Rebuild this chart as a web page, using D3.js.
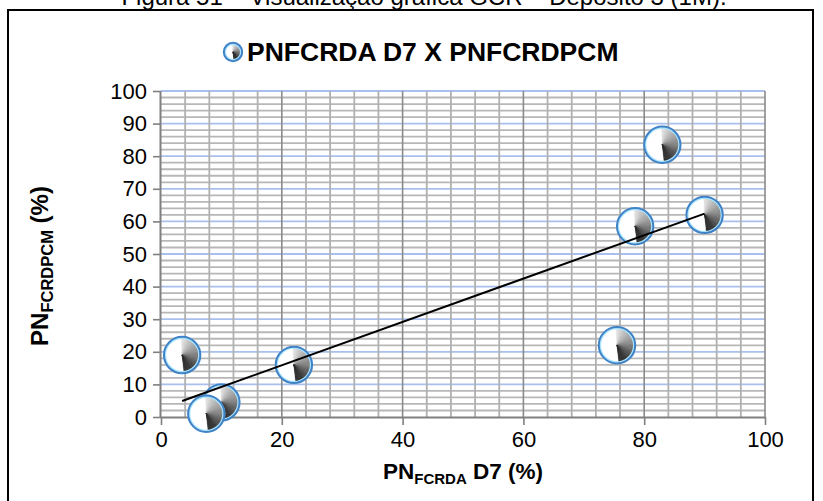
<!DOCTYPE html>
<html>
<head>
<meta charset="utf-8">
<script src="https://cdn.jsdelivr.net/npm/d3@7"></script>
<style>
  html, body { margin: 0; padding: 0; background: #fff; }
  svg { display: block; font-family: "Liberation Sans", Arial, sans-serif; }
</style>
</head>
<body>
<svg id="chart" width="823" height="501"></svg>
<script>
// Sample pairs: PN FCRDA D7 (%) against PN FCRDPCM (%)
const pnFcrdaD7   = [3.5, 10, 7.5, 22, 75.5, 78.5, 90, 83];
const pnFcrdpcm   = [19, 4.5, 1, 16, 22, 58.5, 62, 83.5];
const xTickValues = [0, 20, 40, 60, 80, 100];
const yTickValues = [0, 10, 20, 30, 40, 50, 60, 70, 80, 90, 100];
const seriesName  = "PNFCRDA D7 X PNFCRDPCM";
const captionText = "Figura 51 – Visualização gráfica  GCR – Depósito 3 (1M).";

const svg = d3.select("#chart");
const plot = { left: 161, right: 765, top: 91, bottom: 417 };

const x = d3.scaleLinear().domain([0, 100]).range([plot.left, plot.right]);
const y = d3.scaleLinear().domain([0, 100]).range([plot.bottom, plot.top]);

// caption above the frame (its upper part runs off the page top)
svg.append("text")
  .attr("x", 424).attr("y", 5)
  .attr("text-anchor", "middle")
  .attr("font-size", 24)
  .attr("fill", "#000")
  .text(captionText);

// chart frame
svg.append("rect")
  .attr("x", 8).attr("y", 10)
  .attr("width", 805).attr("height", 500)
  .attr("fill", "#fff")
  .attr("stroke", "#000").attr("stroke-width", 2);

// ---- grid ----
const grid = svg.append("g");
const minorX = d3.range(0, 101, 4).filter(v => v % 20 !== 0);
const minorY = d3.range(0, 101, 2).filter(v => v % 10 !== 0);

grid.selectAll(".hminor").data(minorY).join("line")
  .attr("x1", plot.left).attr("x2", plot.right)
  .attr("y1", d => y(d)).attr("y2", d => y(d))
  .attr("stroke", "#b7b7b7").attr("stroke-width", 1.8);

grid.selectAll(".hmajor").data(yTickValues.filter(v => v > 0)).join("line")
  .attr("x1", plot.left).attr("x2", plot.right)
  .attr("y1", d => y(d)).attr("y2", d => y(d))
  .attr("stroke", "#a9c0ee").attr("stroke-width", 1.8);

grid.selectAll(".vminor").data(minorX).join("line")
  .attr("x1", d => x(d)).attr("x2", d => x(d))
  .attr("y1", plot.top).attr("y2", plot.bottom)
  .attr("stroke", "#b0b0b0").attr("stroke-width", 1.8);

grid.selectAll(".vmajor").data(xTickValues.filter(v => v > 0)).join("line")
  .attr("x1", d => x(d)).attr("x2", d => x(d))
  .attr("y1", plot.top).attr("y2", plot.bottom)
  .attr("stroke", "#8a8a8a").attr("stroke-width", 1.6);

// ---- axes ----
const xAxis = d3.axisBottom(x).tickValues(xTickValues).tickSize(8).tickPadding(6).tickFormat(d3.format("d"));
const yAxis = d3.axisLeft(y).tickValues(yTickValues).tickSize(8).tickPadding(6).tickFormat(d3.format("d"));

function styleAxis(g) {
  g.select(".domain").attr("stroke", "#808080").attr("stroke-width", 2);
  g.selectAll(".tick line").attr("stroke", "#808080").attr("stroke-width", 1.6);
  g.selectAll(".tick text")
    .attr("fill", "#000")
    .attr("font-size", 22)
    .attr("font-family", "'Liberation Sans', Arial, sans-serif");
}

svg.append("g")
  .attr("transform", `translate(0,${plot.bottom})`)
  .call(xAxis)
  .call(g => g.select(".domain").attr("d", `M${plot.left},0.5H${plot.right}`))
  .call(styleAxis);

svg.append("g")
  .attr("transform", `translate(${plot.left},0)`)
  .call(yAxis)
  .call(g => g.select(".domain").attr("d", `M-0.5,${plot.bottom}V${plot.top}`))
  .call(styleAxis);

// ---- least-squares trend line over the sampled range ----
const n = pnFcrdaD7.length;
const mx = d3.mean(pnFcrdaD7), my = d3.mean(pnFcrdpcm);
let sxy = 0, sxx = 0;
for (let i = 0; i < n; i++) {
  sxy += (pnFcrdaD7[i] - mx) * (pnFcrdpcm[i] - my);
  sxx += (pnFcrdaD7[i] - mx) ** 2;
}
const slope = sxy / sxx, intercept = my - slope * mx;
const [xMin, xMax] = d3.extent(pnFcrdaD7);

// ---- spherical markers with a conic shading ----
const shade = d3.scaleLinear()
  .domain([0, 0.2, 0.55, 0.85, 1])
  .range(["#e4e4e4", "#b8b8b8", "#7a7a7a", "#333", "#2a2a2a"]);

function drawMarker(g, r) {
  g.append("circle").attr("r", r).attr("fill", "#fff");
  const steps = 48, start = -0.05, sweep = Math.PI * 0.98;
  const arc = d3.arc().innerRadius(0).outerRadius(r - 1);
  for (let i = 0; i < steps; i++) {
    const a0 = start + sweep * i / steps;
    const a1 = start + sweep * (i + 1) / steps + 0.01;
    const c = shade(i / (steps - 1));
    g.append("path")
      .attr("d", arc({ startAngle: a0, endAngle: a1 }))
      .attr("fill", c).attr("stroke", c).attr("stroke-width", 0.4);
  }
  g.append("circle").attr("r", r - 2.2)
    .attr("fill", "none").attr("stroke", "#a9e4ff").attr("stroke-width", 1.6);
  g.append("circle").attr("r", r - 0.8)
    .attr("fill", "none").attr("stroke", "#3f82c6").attr("stroke-width", 2);
}

const points = svg.append("g");
pnFcrdaD7.forEach((vx, i) => {
  const g = points.append("g").attr("transform", `translate(${x(vx)},${y(pnFcrdpcm[i])})`);
  drawMarker(g, 19);
});

svg.append("line")
  .attr("x1", x(xMin)).attr("y1", y(intercept + slope * xMin))
  .attr("x2", x(xMax)).attr("y2", y(intercept + slope * xMax))
  .attr("stroke", "#000").attr("stroke-width", 2);

// ---- legend ----
const legend = svg.append("g");
drawMarker(legend.append("g").attr("transform", "translate(233,52)"), 10);
legend.append("text")
  .attr("x", 247).attr("y", 61)
  .attr("font-size", 26.5).attr("font-weight", "bold")
  .text(seriesName);

// ---- axis titles ----
const xTitle = svg.append("text")
  .attr("x", (plot.left + plot.right) / 2).attr("y", 479)
  .attr("text-anchor", "middle")
  .attr("font-size", 22.5).attr("font-weight", "bold");
xTitle.append("tspan").text("PN");
xTitle.append("tspan").attr("font-size", 15).attr("dy", 5).text("FCRDA");
xTitle.append("tspan").attr("dy", -5).text(" D7 (%)");

const yTitle = svg.append("text")
  .attr("transform", `translate(48,266) rotate(-90)`)
  .attr("text-anchor", "middle")
  .attr("font-size", 24).attr("font-weight", "bold");
yTitle.append("tspan").text("PN");
yTitle.append("tspan").attr("font-size", 16.5).attr("dy", 5).text("FCRDPCM");
yTitle.append("tspan").attr("dy", -5).text(" (%)");
</script>
</body>
</html>
